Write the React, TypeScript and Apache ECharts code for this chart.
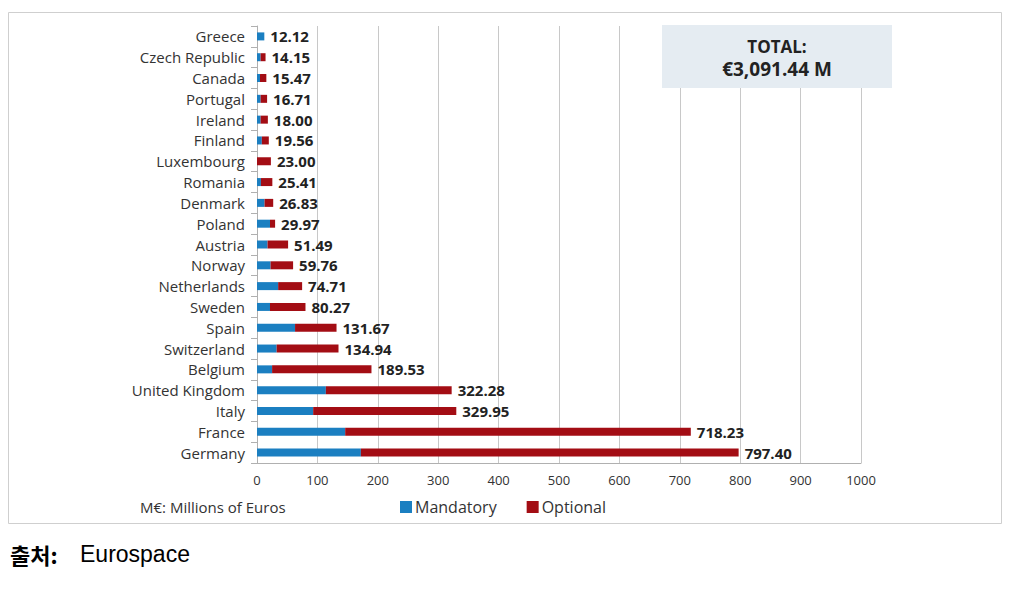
import React, { useEffect, useRef } from "react";
import * as echarts from "echarts";

const categories = [
  "Greece", "Czech Republic", "Canada", "Portugal", "Ireland", "Finland", "Luxembourg",
  "Romania", "Denmark", "Poland", "Austria", "Norway", "Netherlands", "Sweden", "Spain",
  "Switzerland", "Belgium", "United Kingdom", "Italy", "France", "Germany",
];
const mandatory = [12.12, 6, 5, 6, 6, 8, 0, 6.5, 12.5, 21.5, 17.5, 22.5, 35, 21.5, 63, 32.5, 25, 114, 93, 146, 172];
const optional = [0, 8.15, 10.47, 10.71, 12.0, 11.56, 23.0, 18.91, 14.33, 8.47, 33.99, 37.26, 39.71, 58.77, 68.67, 102.44, 164.53, 208.28, 236.95, 572.23, 625.4];
const totalLabels = [
  "12.12", "14.15", "15.47", "16.71", "18.00", "19.56", "23.00", "25.41", "26.83", "29.97",
  "51.49", "59.76", "74.71", "80.27", "131.67", "134.94", "189.53", "322.28", "329.95", "718.23", "797.40",
];
const xTicks = [0, 100, 200, 300, 400, 500, 600, 700, 800, 900, 1000];

const FONT = '"Open Sans", sans-serif';

export default function App() {
  const ref = useRef<HTMLDivElement>(null);
  useEffect(() => {
    if (!ref.current) return;
    const chart = echarts.init(ref.current, undefined, { renderer: "svg" });
    chart.setOption({
      animation: false,
      textStyle: { fontFamily: FONT },
      grid: { left: 257, right: 150, top: 26, bottom: 131, containLabel: false },
      xAxis: {
        type: "value",
        min: xTicks[0],
        max: xTicks[xTicks.length - 1],
        interval: 100,
        axisLine: { show: true, lineStyle: { color: "#b0b0b0" } },
        axisTick: { show: false },
        splitLine: { show: true, lineStyle: { color: "#c8c8c8", width: 1 } },
        axisLabel: {
          color: "#333",
          fontSize: 13,
          fontFamily: FONT,
          margin: 10,
          formatter: (v: number) => String(v),
        },
      },
      yAxis: {
        type: "category",
        data: categories,
        inverse: true,
        axisLine: { show: true, lineStyle: { color: "#b0b0b0" } },
        axisTick: { show: true, length: 6, lineStyle: { color: "#b0b0b0" } },
        axisLabel: { color: "#333", fontSize: 15, fontFamily: FONT, margin: 12 },
      },
      legend: {
        left: 395,
        top: 494,
        itemWidth: 12,
        itemHeight: 12,
        itemGap: 30,
        icon: "rect",
        textStyle: { color: "#333", fontSize: 16, fontFamily: FONT, padding: [0, 0, 0, -2] },
        data: ["Mandatory", "Optional"],
      },
      series: [
        {
          name: "Mandatory",
          type: "bar",
          stack: "total",
          data: mandatory,
          barWidth: 8,
          itemStyle: { color: "#1b7fc1" },
        },
        {
          name: "Optional",
          type: "bar",
          stack: "total",
          data: optional,
          barWidth: 8,
          itemStyle: { color: "#a30d14" },
          label: {
            show: true,
            position: "right",
            distance: 6,
            formatter: (p: any) => totalLabels[p.dataIndex],
            color: "#222",
            fontWeight: "bold",
            fontSize: 15,
            fontFamily: FONT,
          },
        },
      ],
      graphic: [
        {
          type: "rect",
          shape: { x: 8.5, y: 12.5, width: 993, height: 511 },
          style: { fill: "none", stroke: "#cfcfcf", lineWidth: 1 },
          z: -1,
        },
        {
          type: "rect",
          shape: { x: 662, y: 25, width: 230, height: 63 },
          style: { fill: "#e5ecf2" },
          z: 10,
        },
        {
          type: "text",
          x: 777,
          y: 46,
          style: {
            text: "TOTAL:",
            fill: "#222",
            fontWeight: "bold",
            fontSize: 17,
            fontFamily: FONT,
            align: "center",
            verticalAlign: "middle",
          },
          z: 11,
        },
        {
          type: "text",
          x: 777,
          y: 69,
          style: {
            text: "€3,091.44 M",
            fill: "#222",
            fontWeight: "bold",
            fontSize: 19,
            fontFamily: FONT,
            align: "center",
            verticalAlign: "middle",
          },
          z: 11,
        },
        {
          type: "text",
          x: 140,
          y: 507,
          style: {
            text: "M€: Millions of Euros",
            fill: "#333",
            fontSize: 15,
            fontFamily: FONT,
            verticalAlign: "middle",
          },
        },
        {
          type: "text",
          x: 10,
          y: 554,
          style: {
            text: "출처:",
            fill: "#000",
            fontSize: 22,
            fontWeight: "bold",
            fontFamily: '"Noto Sans CJK KR", sans-serif',
            verticalAlign: "middle",
          },
        },
        {
          type: "text",
          x: 80,
          y: 554,
          style: {
            text: "Eurospace",
            fill: "#000",
            fontSize: 23,
            fontFamily: '"Liberation Sans", Arial, sans-serif',
            verticalAlign: "middle",
          },
        },
      ],
    });
    return () => chart.dispose();
  }, []);
  return (
    <div
      ref={ref}
      style={{ position: "absolute", left: 0, top: 0, width: 1011, height: 594, background: "#fff" }}
    />
  );
}
